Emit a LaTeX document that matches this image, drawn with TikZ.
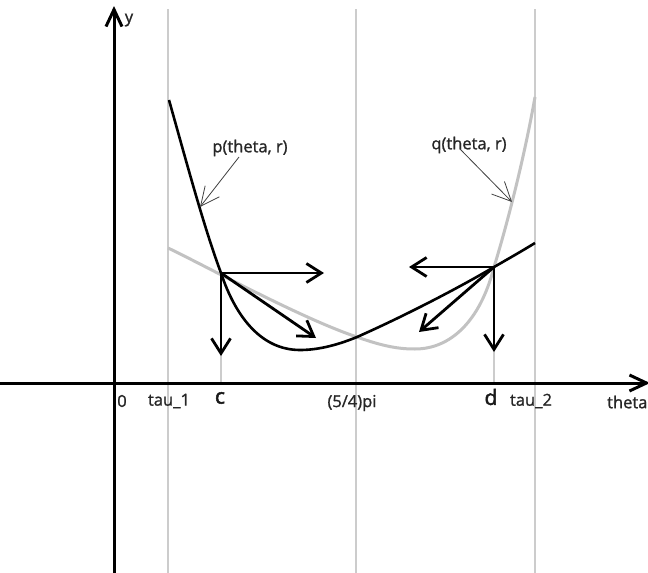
\documentclass[tikz,border=0pt]{standalone}
\usepackage{fontspec}
\setmainfont{Open Sans}
\newfontfamily\lblfont{Open Sans}[FakeBold=1.2]
\newfontfamily\bigfont{Open Sans}[FakeBold=2.2]
\usetikzlibrary{arrows.meta}
\begin{document}
\begin{tikzpicture}[x=1pt,y=-1pt,
  axisline/.style={line width=3pt, draw=black, -{Straight Barb[length=17pt,width=16pt]}},
  vec/.style={line width=2.8pt, draw=black, -{Straight Barb[length=15pt,width=19pt]}},
  guide/.style={draw=black!20, line width=1.1pt},
  curvep/.style={draw=black, line width=2.6pt, line join=round},
  curveq/.style={draw=black!24, line width=3pt, line join=round},
  note/.style={draw=black!75, line width=0.8pt, -{Straight Barb[length=19pt,width=18pt]}},
  lbl/.style={font=\lblfont\fontsize{16.5}{18}\selectfont, text=black!85, inner sep=0pt},
  big/.style={font=\bigfont\fontsize{21}{24}\selectfont, text=black!90, inner sep=0pt},
]
\useasboundingbox (0,0) rectangle (648,573);
\fill[white] (0,0) rectangle (648,573);

% guide lines
\coordinate (T1top) at (168,9);   \coordinate (T1bot) at (168,573);
\coordinate (PIt) at (356,9);     \coordinate (PIb) at (356,573);
\coordinate (T2top) at (535,9);   \coordinate (T2bot) at (535,573);
\coordinate (C) at (221,273);     \coordinate (Cax) at (221,383);
\coordinate (D) at (494,267);     \coordinate (Dax) at (494,383);
\draw[guide] (T1top) -- (T1bot);
\draw[guide] (PIt) -- (PIb);
\draw[guide] (T2top) -- (T2bot);
\draw[guide] (C) -- (Cax);
\draw[guide] (D) -- (Dax);

% axes
\coordinate (Ybot) at (114,575); \coordinate (Ytop) at (114,6);
\coordinate (Xl) at (0,383);     \coordinate (Xr) at (650,383);
\draw[axisline] (Ybot) -- (Ytop);
\draw[axisline] (Xl) -- (Xr);

% curves
\draw[curveq] (168,248) .. controls (200,263) and (300,318) .. (357,337)
  .. controls (385,347) and (400,349) .. (415,349)
  .. controls (450,349) and (480,322) .. (D)
  .. controls (503,238) and (522,170) .. (535,97);
\draw[curvep] (169,100) .. controls (190,175) and (205,230) .. (C)
  .. controls (236,318) and (262,350) .. (300,350)
  .. controls (320,350) and (340,344) .. (357,337)
  .. controls (400,318) and (455,290) .. (D)
  .. controls (508,259) and (522,251) .. (535,243);

% vectors at c
\coordinate (Cr) at (324,273); \coordinate (Cd) at (221,356); \coordinate (Cg) at (316,338);
\draw[vec] (C) -- (Cr);
\draw[vec] (C) -- (Cd);
\draw[vec] (C) -- (Cg);
% vectors at d
\coordinate (Dl) at (409,267); \coordinate (Dd) at (494,352); \coordinate (Dg) at (419,332);
\draw[vec] (D) -- (Dl);
\draw[vec] (D) -- (Dd);
\draw[vec] (D) -- (Dg);

% labels
\node[lbl] (ylab) at (129,20) {y};
\node[lbl] (zero) at (122,401) {0};
\node[lbl] (tau1) at (169,401) {tau\_1};
\node[big] (clab) at (220,398) {c};
\node[lbl] (pilab) at (352,403) {(5/4)pi};
\node[big] (dlab) at (491,397) {d};
\node[lbl] (tau2) at (531,401) {tau\_2};
\node[lbl, anchor=west] (thlab) at (607,402) {theta};
\node[lbl] (plab) at (250,148) {p(theta, r)};
\node[lbl] (qlab) at (469,145) {q(theta, r)};

% annotation pointers
\coordinate (Pp) at (200,207); \coordinate (Qp) at (512,202);
\draw[note] (239,157) -- (Pp);
\draw[note] (460,149) -- (Qp);
\end{tikzpicture}
\end{document}
